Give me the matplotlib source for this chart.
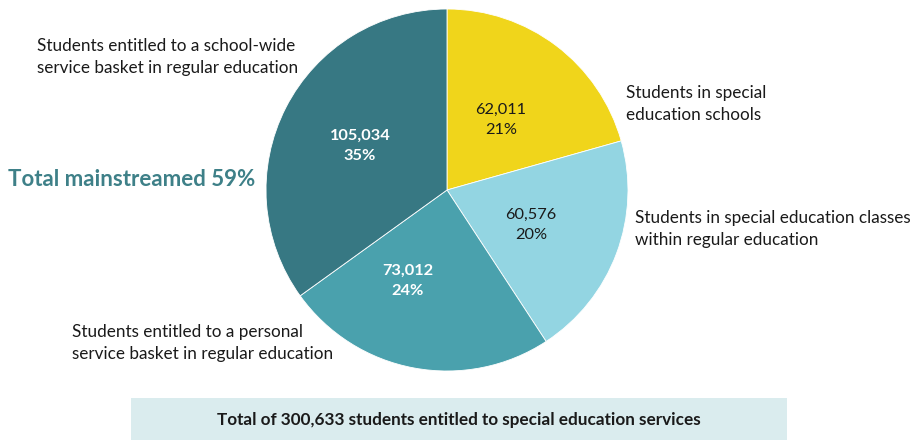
import matplotlib
matplotlib.use("Agg")
import matplotlib.pyplot as plt
from matplotlib.patches import Rectangle

plt.rcParams['font.family'] = ['Lato', 'DejaVu Sans']

categories = [
    "Students in special\neducation schools",
    "Students in special education classes\nwithin regular education",
    "Students entitled to a personal\nservice basket in regular education",
    "Students entitled to a school-wide\nservice basket in regular education",
]
values = [62011, 60576, 73012, 105034]
percents = ["21%", "20%", "24%", "35%"]
colors = ["#F0D51B", "#93D5E2", "#4AA1AD", "#377883"]
value_text_colors = ["#1a1a1a", "#1a1a1a", "white", "white"]
value_bold = [False, False, True, True]
total_label = "Total of 300,633 students entitled to special education services"
mainstream_label = "Total mainstreamed 59%"

W, H = 920, 442
fig = plt.figure(figsize=(W / 100, H / 100), dpi=100)

cx, cy, r = 447, 190, 181
ax = fig.add_axes([(cx - r) / W, 1 - (cy + r) / H, 2 * r / W, 2 * r / H])
ax.pie(values, colors=colors, startangle=90, counterclock=False,
       wedgeprops=dict(edgecolor="white", linewidth=0.6))
ax.set_xlim(-1, 1)
ax.set_ylim(-1, 1)
ax.set_aspect("equal")
ax.axis("off")

def px(x, y):
    return x / W, 1 - y / H

# inner value labels
inner_pos = [(501, 120), (531, 225), (408, 281), (360, 146)]
for (x, y), v, p, c, b in zip(inner_pos, values, percents, value_text_colors, value_bold):
    fig.text(*px(x, y), f"{v:,}\n{p}", ha="center", va="center", fontsize=11.8,
             color=c, fontweight="bold" if b else "normal", linespacing=1.6)

# outer category labels (left x, center y)
outer_pos = [(626, 104), (635, 229), (72, 343), (37, 57)]
for (x, y), t in zip(outer_pos, categories):
    fig.text(*px(x, y), t, ha="left", va="center", fontsize=12.3,
             color="#1a1a1a", linespacing=1.4)

fig.text(*px(8, 180), mainstream_label, ha="left", va="center", fontsize=16,
         fontweight="bold", color="#3E8088")

# bottom box
fig.patches.append(Rectangle(px(131, 440), (787 - 131) / W, (440 - 398) / H,
                             transform=fig.transFigure, facecolor="#DAECEE",
                             edgecolor="none", zorder=0))
fig.text(*px(459, 420), total_label, ha="center", va="center", fontsize=12.3,
         fontweight="bold", color="#1a1a1a")

fig.savefig("out.png", dpi=100, facecolor="white")
